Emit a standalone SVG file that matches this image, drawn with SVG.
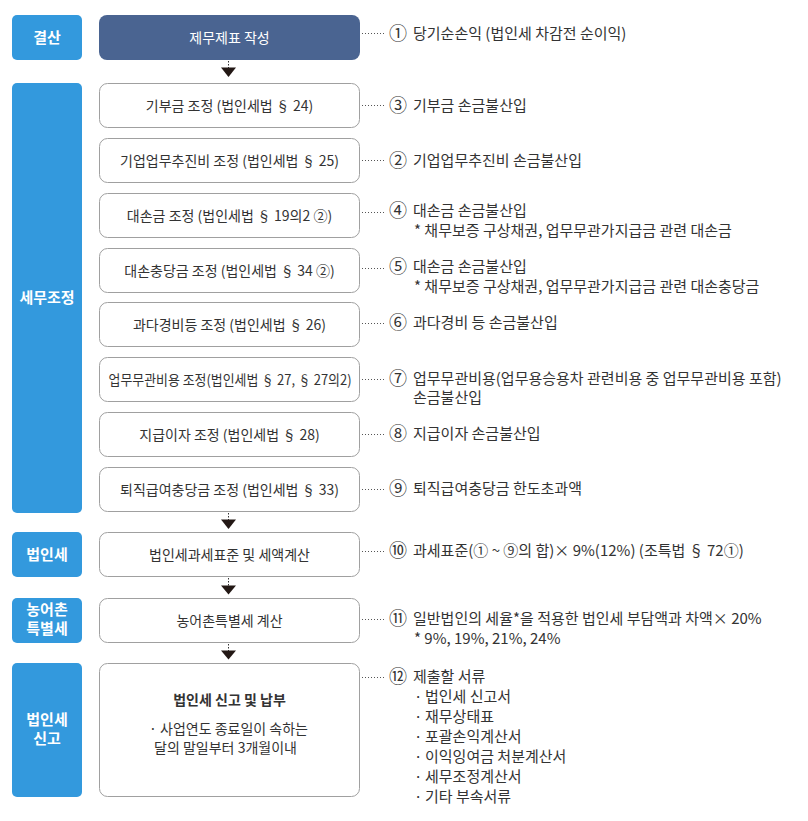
<svg xmlns="http://www.w3.org/2000/svg" width="808" height="821" viewBox="0 0 808 821">
<style>
text{font-family:"Noto Sans CJK KR","Noto Sans",sans-serif;}
.lab{fill:#3399dd;}
.labt{fill:#ffffff;font-size:15px;font-weight:700;text-anchor:middle;}
.box{fill:#ffffff;stroke:#a0a0a0;stroke-width:1;}
.bt{fill:#333333;font-size:14px;text-anchor:middle;}
.an{fill:#333333;font-size:15px;}
.num{fill:#333333;font-size:18px;}
.dot{stroke:#555555;stroke-width:1;stroke-dasharray:1 2;fill:none;}
.vdot{stroke:#333333;stroke-width:1;stroke-dasharray:1.5 1.5;fill:none;}
.tri{fill:#231815;}
</style>
<rect width="808" height="821" fill="#ffffff"/>

<g id="labels">
<g id="lab-gyeolsan"><rect class="lab" x="12" y="15" width="70" height="45" rx="5"/><text class="labt" x="47" y="43">결산</text></g>
<g id="lab-semu"><rect class="lab" x="12" y="83" width="70" height="430" rx="5"/><text class="labt" x="47" y="303">세무조정</text></g>
<g id="lab-beobin"><rect class="lab" x="12" y="532" width="70" height="45" rx="5"/><text class="labt" x="47" y="560">법인세</text></g>
<g id="lab-nong"><rect class="lab" x="12" y="598" width="70" height="45" rx="5"/><text class="labt" x="47" y="615">농어촌<tspan x="47" dy="19">특별세</tspan></text></g>
<g id="lab-singo"><rect class="lab" x="12" y="663" width="70" height="134" rx="5"/><text class="labt" x="47" y="725">법인세<tspan x="47" dy="19">신고</tspan></text></g>
</g>

<g id="connectors">
<line class="dot" x1="362" y1="33.5" x2="386" y2="33.5"/>
<line class="dot" x1="362" y1="105.5" x2="386" y2="105.5"/>
<line class="dot" x1="362" y1="160.5" x2="386" y2="160.5"/>
<line class="dot" x1="362" y1="212.5" x2="386" y2="212.5"/>
<line class="dot" x1="362" y1="268.5" x2="386" y2="268.5"/>
<line class="dot" x1="362" y1="323.5" x2="386" y2="323.5"/>
<line class="dot" x1="362" y1="379.5" x2="386" y2="379.5"/>
<line class="dot" x1="362" y1="434.5" x2="386" y2="434.5"/>
<line class="dot" x1="362" y1="489.5" x2="386" y2="489.5"/>
<line class="dot" x1="362" y1="551.5" x2="386" y2="551.5"/>
<line class="dot" x1="362" y1="619.5" x2="386" y2="619.5"/>
<line class="dot" x1="362" y1="677.5" x2="386" y2="677.5"/>
<line class="vdot" x1="228.5" y1="61" x2="228.5" y2="68"/>
<polygon class="tri" points="221,67.5 236,67.5 228.5,77"/>
<line class="vdot" x1="228.5" y1="513" x2="228.5" y2="520"/>
<polygon class="tri" points="221,519.5 236,519.5 228.5,529"/>
<line class="vdot" x1="228.5" y1="578" x2="228.5" y2="586"/>
<polygon class="tri" points="221,585.5 236,585.5 228.5,594.5"/>
<line class="vdot" x1="228.5" y1="644" x2="228.5" y2="651"/>
<polygon class="tri" points="221,650.5 236,650.5 228.5,659.5"/>
</g>

<g id="n-jaemu"><rect x="99" y="15" width="261" height="45" rx="8" fill="#4a6491"/><text class="bt" x="229.5" y="42.5" style="fill:#ffffff">제무제표 작성</text></g>
<g id="n-gibu"><rect class="box" x="99.5" y="83.5" width="260" height="44" rx="8"/><text class="bt" x="229.5" y="110.5">기부금 조정 (법인세법 § 24)</text></g>
<g id="n-giup"><rect class="box" x="99.5" y="138.5" width="260" height="44" rx="8"/><text class="bt" x="229.5" y="165.5">기업업무추진비 조정 (법인세법 § 25)</text></g>
<g id="n-daeson"><rect class="box" x="99.5" y="193.5" width="260" height="44" rx="8"/><text class="bt" x="229.5" y="220.5">대손금 조정 (법인세법 § 19의2 ②)</text></g>
<g id="n-daesonchung"><rect class="box" x="99.5" y="248.5" width="260" height="44" rx="8"/><text class="bt" x="229.5" y="275.5">대손충당금 조정 (법인세법 § 34 ②)</text></g>
<g id="n-gwada"><rect class="box" x="99.5" y="302.5" width="260" height="44" rx="8"/><text class="bt" x="229.5" y="329.5">과다경비등 조정 (법인세법 § 26)</text></g>
<g id="n-eopmu"><rect class="box" x="99.5" y="357.5" width="260" height="44" rx="8"/><text class="bt" x="230" y="384.5" textLength="243" lengthAdjust="spacingAndGlyphs">업무무관비용 조정(법인세법 § 27, § 27의2)</text></g>
<g id="n-jigeup"><rect class="box" x="99.5" y="412.5" width="260" height="44" rx="8"/><text class="bt" x="229.5" y="439.5">지급이자 조정 (법인세법 § 28)</text></g>
<g id="n-toejik"><rect class="box" x="99.5" y="467.5" width="260" height="44" rx="8"/><text class="bt" x="229.5" y="494.5">퇴직급여충당금 조정 (법인세법 § 33)</text></g>
<g id="n-gwase"><rect class="box" x="99.5" y="532.5" width="260" height="44" rx="8"/><text class="bt" x="229.5" y="559.5">법인세과세표준 및 세액계산</text></g>
<g id="n-nong"><rect class="box" x="99.5" y="598.5" width="260" height="44" rx="8"/><text class="bt" x="229.5" y="625.5">농어촌특별세 계산</text></g>
<g id="n-singo"><rect class="box" x="99.5" y="663.5" width="260" height="133" rx="8"/>
<text class="bt" x="229.5" y="705" style="font-weight:700">법인세 신고 및 납부</text>
<text class="bt" x="228.5" y="734">· 사업연도 종료일이 속하는</text>
<text class="bt" x="225.5" y="753">달의 말일부터 3개월이내</text></g>

<g id="annotations">
<text class="num" x="389" y="40">①</text><text class="an" x="413" y="39">당기순손익 (법인세 차감전 순이익)</text>
<text class="num" x="389" y="111.5">③</text><text class="an" x="413" y="110.5">기부금 손금불산입</text>
<text class="num" x="389" y="166.5">②</text><text class="an" x="413" y="165.5">기업업무추진비 손금불산입</text>
<text class="num" x="389" y="216.5">④</text><text class="an" x="413" y="215.5">대손금 손금불산입</text>
<text class="an" x="414" y="235.5">* 채무보증 구상채권, 업무무관가지급금 관련 대손금</text>
<text class="num" x="389" y="272.5">⑤</text><text class="an" x="413" y="271.5">대손금 손금불산입</text>
<text class="an" x="414" y="291.5">* 채무보증 구상채권, 업무무관가지급금 관련 대손충당금</text>
<text class="num" x="389" y="328.5">⑥</text><text class="an" x="413" y="327.5">과다경비 등 손금불산입</text>
<text class="num" x="389" y="384.5">⑦</text><text class="an" x="413" y="383.5">업무무관비용(업무용승용차 관련비용 중 업무무관비용 포함)</text>
<text class="an" x="413" y="403">손금불산입</text>
<text class="num" x="389" y="439.5">⑧</text><text class="an" x="413" y="438.5">지급이자 손금불산입</text>
<text class="num" x="389" y="494.5">⑨</text><text class="an" x="413" y="493.5">퇴직급여충당금 한도초과액</text>
<text class="num" x="389" y="557">⑩</text><text class="an" x="413" y="556">과세표준(① ~ ⑨의 합)× 9%(12%) (조특법  § 72①)</text>
<text class="num" x="389" y="625">⑪</text><text class="an" x="413" y="624">일반법인의 세율*을 적용한 법인세 부담액과 차액× 20%</text>
<text class="an" x="414" y="644">* 9%, 19%, 21%, 24%</text>
<text class="num" x="389" y="683">⑫</text><text class="an" x="413" y="682">제출할 서류</text>
<text class="an" x="414" y="702">·</text><text class="an" x="425" y="702">법인세 신고서</text>
<text class="an" x="414" y="722">·</text><text class="an" x="425" y="722">재무상태표</text>
<text class="an" x="414" y="742">·</text><text class="an" x="425" y="742">포괄손익계산서</text>
<text class="an" x="414" y="762">·</text><text class="an" x="425" y="762">이익잉여금 처분계산서</text>
<text class="an" x="414" y="782">·</text><text class="an" x="425" y="782">세무조정계산서</text>
<text class="an" x="414" y="802">·</text><text class="an" x="425" y="802">기타 부속서류</text>
</g>
</svg>
